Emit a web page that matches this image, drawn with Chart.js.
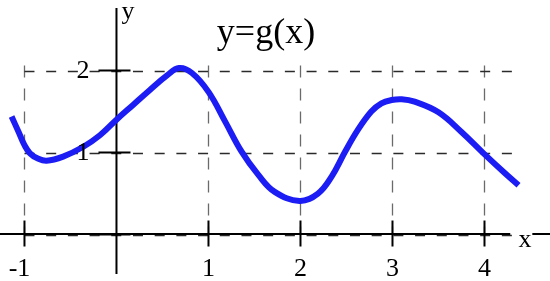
<!DOCTYPE html>
<html lang="en">
<head>
  <meta charset="UTF-8" />
  <title>y=g(x)</title>
  <script src="https://cdn.jsdelivr.net/npm/chart.js"></script>
  <style>
    body {
      margin: 0;
      background: #fff;
    }
    .wrap {
      width: 550px;
      height: 281px;
      position: relative;
    }
  </style>
</head>
<body>
  <div class="wrap">
    <canvas id="gChart"></canvas>
  </div>

  <script>
    // Curve g(x)
    const curveX = [-1.14, -1.06, -1.0, -0.94, -0.86, -0.76, -0.58, -0.36, -0.18, 0, 0.18, 0.36, 0.55, 0.68, 0.82, 1.0, 1.18, 1.36, 1.54, 1.72, 1.99, 2.19, 2.34, 2.48, 2.62, 2.77, 2.88, 2.99, 3.1, 3.24, 3.5, 3.75, 3.99, 4.22, 4.37];
    const curveY = [1.44, 1.24, 1.09, 0.99, 0.93, 0.9, 0.95, 1.07, 1.21, 1.4, 1.58, 1.76, 1.94, 2.03, 1.97, 1.74, 1.38, 1.01, 0.73, 0.52, 0.41, 0.5, 0.71, 1.0, 1.27, 1.5, 1.6, 1.64, 1.65, 1.62, 1.49, 1.25, 0.99, 0.75, 0.6];

    // ticks / grid
    const xTicks = [-1, 1, 2, 3, 4];
    const xGrid = [-1, 1, 2, 3, 4];
    const yTicks = [1, 2];
    const yGrid = [0, 1, 2];

    const serif = '"Liberation Serif", "DejaVu Serif", serif';

    // grid, axes and tick marks drawn from the chart's own scales
    const axesPlugin = {
      id: 'axesPlugin',
      beforeDatasetsDraw(chart) {
        const { ctx, scales: { x, y } } = chart;
        const x0 = x.getPixelForValue(0);
        const y0 = y.getPixelForValue(0);
        ctx.save();

        // vertical dashed grid
        ctx.setLineDash([12, 11]);
        ctx.strokeStyle = '#6a6a6a';
        ctx.lineWidth = 1.3;
        xGrid.forEach(v => {
          const px = Math.round(x.getPixelForValue(v)) + 0.5;
          ctx.beginPath();
          ctx.moveTo(px, y.getPixelForValue(2.06));
          ctx.lineTo(px, y0);
          ctx.stroke();
        });

        // horizontal dashed grid
        ctx.setLineDash([10, 11.7]);
        ctx.strokeStyle = '#2a2a2a';
        yGrid.forEach(v => {
          const py = Math.round(y.getPixelForValue(v)) + 0.5;
          ctx.beginPath();
          ctx.moveTo(x.getPixelForValue(-1), py);
          ctx.lineTo(x.getPixelForValue(4.3), py);
          ctx.stroke();
        });

        // axes
        ctx.setLineDash([]);
        ctx.strokeStyle = '#000';
        ctx.lineWidth = 2;
        ctx.beginPath();
        ctx.moveTo(0, y0 - 0.5);
        ctx.lineTo(x.getPixelForValue(4.28), y0 - 0.5);
        ctx.moveTo(x.getPixelForValue(4.52), y0 - 0.5);
        ctx.lineTo(chart.width, y0 - 0.5);
        ctx.moveTo(x0, 8);
        ctx.lineTo(x0, 274);
        ctx.stroke();

        // tick marks
        xTicks.forEach(v => {
          const px = x.getPixelForValue(v);
          ctx.beginPath();
          ctx.moveTo(px, y0 - 14);
          ctx.lineTo(px, y0 + 12);
          ctx.stroke();
        });
        [0].concat(yTicks).forEach(v => {
          const py = y.getPixelForValue(v);
          ctx.beginPath();
          ctx.moveTo(x0 - 18, py);
          ctx.lineTo(x0 + 14, py);
          ctx.stroke();
        });
        ctx.restore();
      },
      afterDatasetsDraw(chart) {
        const { ctx, scales: { x, y } } = chart;
        const x0 = x.getPixelForValue(0);
        const y0 = y.getPixelForValue(0);
        ctx.save();
        ctx.fillStyle = '#000';
        ctx.font = '26px ' + serif;

        // x tick labels
        ctx.textAlign = 'center';
        ctx.textBaseline = 'alphabetic';
        xTicks.forEach(v => {
          const off = v < 0 ? -5 : 0;
          ctx.fillText(String(v), x.getPixelForValue(v) + off, y0 + 41);
        });

        // y tick labels
        ctx.textAlign = 'right';
        ctx.textBaseline = 'middle';
        yTicks.forEach(v => {
          ctx.fillText(String(v), x0 - 27, y.getPixelForValue(v) + 1);
        });

        // axis names
        ctx.textAlign = 'left';
        ctx.textBaseline = 'alphabetic';
        ctx.fillText('y', x0 + 5, 19);
        ctx.fillText('x', x.getPixelForValue(4.37), y0 + 12);

        // title
        ctx.font = '36px ' + serif;
        ctx.textAlign = 'center';
        ctx.fillText('y=g(x)', 266, 43);
        ctx.restore();
      }
    };

    new Chart(document.getElementById('gChart'), {
      type: 'scatter',
      data: {
        datasets: [{
          data: curveX.map((v, i) => ({ x: v, y: curveY[i] })),
          showLine: true,
          borderColor: '#1c1cf5',
          borderWidth: 6,
          pointRadius: 0,
          tension: 0.4,
          borderCapStyle: 'butt',
          clip: false
        }]
      },
      options: {
        responsive: true,
        maintainAspectRatio: false,
        animation: false,
        layout: { padding: 0 },
        plugins: {
          legend: { display: false },
          tooltip: { enabled: false }
        },
        scales: {
          x: { type: 'linear', min: -1.266, max: 4.712, display: false },
          y: { type: 'linear', min: -0.567, max: 2.86, display: false }
        }
      },
      plugins: [axesPlugin]
    });
  </script>
</body>
</html>
